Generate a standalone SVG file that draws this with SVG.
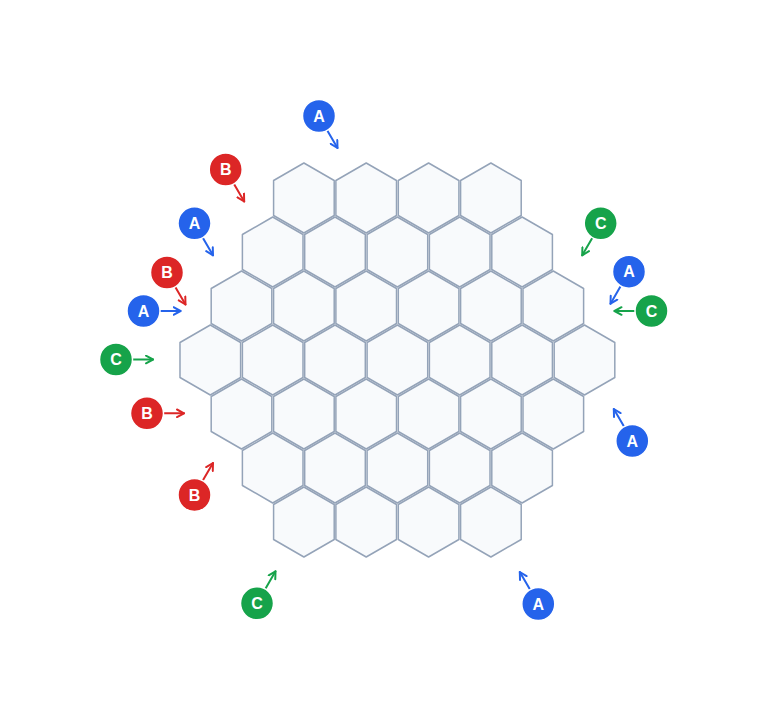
<svg xmlns="http://www.w3.org/2000/svg" xmlns:xlink="http://www.w3.org/1999/xlink" width="768" height="720" viewBox="0 0 768 720">
<style>
.tile{fill:#f8fafc;stroke:#94a3b8;stroke-width:1.5;stroke-linejoin:round}
.port circle{stroke:#ffffff;stroke-width:1.5}
.port text{fill:#ffffff;font-family:"Liberation Sans",Arial,sans-serif;font-weight:bold;font-size:16px;text-anchor:middle}
.pa circle{fill:#2563eb}
.pb circle{fill:#dc2626}
.pc circle{fill:#16a34a}
.conn line{stroke-width:2;fill:none;stroke-linecap:round}
.ca{stroke:#2563eb}
.cb{stroke:#dc2626}
.cc{stroke:#16a34a}
</style>
<defs>
<polygon id="hex" points="0,-35 30.31,-17.5 30.31,17.5 0,35 -30.31,17.5 -30.31,-17.5"/>
<marker id="ma" viewBox="-8 -5 10 10" markerWidth="10" markerHeight="10" refX="0" refY="0" orient="auto" markerUnits="userSpaceOnUse"><path d="M-7,-3.8 L0,0 L-7,3.8" fill="none" stroke="#2563eb" stroke-width="2" stroke-linecap="round" stroke-linejoin="round"/></marker>
<marker id="mb" viewBox="-8 -5 10 10" markerWidth="10" markerHeight="10" refX="0" refY="0" orient="auto" markerUnits="userSpaceOnUse"><path d="M-7,-3.8 L0,0 L-7,3.8" fill="none" stroke="#dc2626" stroke-width="2" stroke-linecap="round" stroke-linejoin="round"/></marker>
<marker id="mc" viewBox="-8 -5 10 10" markerWidth="10" markerHeight="10" refX="0" refY="0" orient="auto" markerUnits="userSpaceOnUse"><path d="M-7,-3.8 L0,0 L-7,3.8" fill="none" stroke="#16a34a" stroke-width="2" stroke-linecap="round" stroke-linejoin="round"/></marker>
</defs>
<rect width="768" height="720" fill="#ffffff"/>
<g id="board" class="tile">
<use id="t-3-0" href="#hex" x="303.9" y="198"/>
<use id="t-3-1" href="#hex" x="366.2" y="198"/>
<use id="t-3-2" href="#hex" x="428.6" y="198"/>
<use id="t-3-3" href="#hex" x="490.9" y="198"/>
<use id="t-2-0" href="#hex" x="272.7" y="252"/>
<use id="t-2-1" href="#hex" x="335.0" y="252"/>
<use id="t-2-2" href="#hex" x="397.4" y="252"/>
<use id="t-2-3" href="#hex" x="459.7" y="252"/>
<use id="t-2-4" href="#hex" x="522.1" y="252"/>
<use id="t-1-0" href="#hex" x="241.5" y="306"/>
<use id="t-1-1" href="#hex" x="303.9" y="306"/>
<use id="t-1-2" href="#hex" x="366.2" y="306"/>
<use id="t-1-3" href="#hex" x="428.6" y="306"/>
<use id="t-1-4" href="#hex" x="490.9" y="306"/>
<use id="t-1-5" href="#hex" x="553.3" y="306"/>
<use id="t0-0" href="#hex" x="210.3" y="360"/>
<use id="t0-1" href="#hex" x="272.7" y="360"/>
<use id="t0-2" href="#hex" x="335.0" y="360"/>
<use id="t0-3" href="#hex" x="397.4" y="360"/>
<use id="t0-4" href="#hex" x="459.7" y="360"/>
<use id="t0-5" href="#hex" x="522.1" y="360"/>
<use id="t0-6" href="#hex" x="584.5" y="360"/>
<use id="t1-0" href="#hex" x="241.5" y="414"/>
<use id="t1-1" href="#hex" x="303.9" y="414"/>
<use id="t1-2" href="#hex" x="366.2" y="414"/>
<use id="t1-3" href="#hex" x="428.6" y="414"/>
<use id="t1-4" href="#hex" x="490.9" y="414"/>
<use id="t1-5" href="#hex" x="553.3" y="414"/>
<use id="t2-0" href="#hex" x="272.7" y="468"/>
<use id="t2-1" href="#hex" x="335.0" y="468"/>
<use id="t2-2" href="#hex" x="397.4" y="468"/>
<use id="t2-3" href="#hex" x="459.7" y="468"/>
<use id="t2-4" href="#hex" x="522.1" y="468"/>
<use id="t3-0" href="#hex" x="303.9" y="522"/>
<use id="t3-1" href="#hex" x="366.2" y="522"/>
<use id="t3-2" href="#hex" x="428.6" y="522"/>
<use id="t3-3" href="#hex" x="490.9" y="522"/>
</g>
<g id="connectors" class="conn">
<line class="ca" x1="327" y1="129.9" x2="337.5" y2="148" marker-end="url(#ma)"/>
<line class="cb" x1="233.7" y1="183.4" x2="244.2" y2="201.5" marker-end="url(#mb)"/>
<line class="ca" x1="202.5" y1="237.2" x2="213" y2="255.3" marker-end="url(#ma)"/>
<line class="cb" x1="175" y1="286.4" x2="185.5" y2="304.5" marker-end="url(#mb)"/>
<line class="ca" x1="159.5" y1="311" x2="180.5" y2="311" marker-end="url(#ma)"/>
<line class="cc" x1="132" y1="359.5" x2="153" y2="359.5" marker-end="url(#mc)"/>
<line class="cb" x1="163" y1="413.3" x2="184" y2="413.3" marker-end="url(#mb)"/>
<line class="cb" x1="202.5" y1="481.1" x2="213" y2="463" marker-end="url(#mb)"/>
<line class="cc" x1="265" y1="589.4" x2="275.5" y2="571.3" marker-end="url(#mc)"/>
<line class="ca" x1="530.3" y1="590.1" x2="519.8" y2="572" marker-end="url(#ma)"/>
<line class="ca" x1="624.3" y1="427.1" x2="613.8" y2="409" marker-end="url(#ma)"/>
<line class="cc" x1="635.5" y1="311" x2="614.5" y2="311" marker-end="url(#mc)"/>
<line class="ca" x1="621" y1="285.6" x2="610.5" y2="303.7" marker-end="url(#ma)"/>
<line class="cc" x1="592.7" y1="237.2" x2="582.2" y2="255.3" marker-end="url(#mc)"/>
</g>
<g id="port-1" class="port pa"><circle cx="319" cy="116" r="16.5"/><text x="319" y="121.7">A</text></g>
<g id="port-2" class="port pb"><circle cx="225.7" cy="169.5" r="16.5"/><text x="225.7" y="175.2">B</text></g>
<g id="port-3" class="port pa"><circle cx="194.5" cy="223.3" r="16.5"/><text x="194.5" y="229">A</text></g>
<g id="port-4" class="port pb"><circle cx="167" cy="272.5" r="16.5"/><text x="167" y="278.2">B</text></g>
<g id="port-5" class="port pa"><circle cx="143.5" cy="311" r="16.5"/><text x="143.5" y="316.7">A</text></g>
<g id="port-6" class="port pc"><circle cx="116" cy="359.5" r="16.5"/><text x="116" y="365.2">C</text></g>
<g id="port-7" class="port pb"><circle cx="147" cy="413.3" r="16.5"/><text x="147" y="419">B</text></g>
<g id="port-8" class="port pb"><circle cx="194.5" cy="495" r="16.5"/><text x="194.5" y="500.7">B</text></g>
<g id="port-9" class="port pc"><circle cx="257" cy="603.3" r="16.5"/><text x="257" y="609">C</text></g>
<g id="port-10" class="port pa"><circle cx="538.3" cy="604" r="16.5"/><text x="538.3" y="609.7">A</text></g>
<g id="port-11" class="port pa"><circle cx="632.3" cy="441" r="16.5"/><text x="632.3" y="446.7">A</text></g>
<g id="port-12" class="port pc"><circle cx="651.5" cy="311" r="16.5"/><text x="651.5" y="316.7">C</text></g>
<g id="port-13" class="port pa"><circle cx="629" cy="271.7" r="16.5"/><text x="629" y="277.4">A</text></g>
<g id="port-14" class="port pc"><circle cx="600.7" cy="223.3" r="16.5"/><text x="600.7" y="229">C</text></g>
</svg>
